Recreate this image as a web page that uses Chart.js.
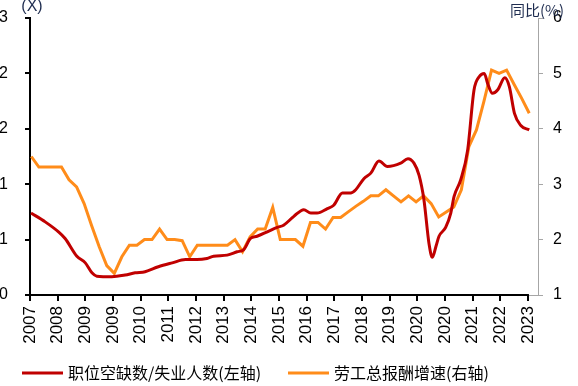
<!DOCTYPE html>
<html>
<head>
<meta charset="utf-8">
<script src="https://cdn.jsdelivr.net/npm/chart.js@4.4.1/dist/chart.umd.min.js"></script>
<style>
  html, body { margin: 0; padding: 0; background: #fff; }
  #wrap { width: 578px; height: 386px; }
</style>
</head>
<body>
<div id="wrap"><canvas id="chart"></canvas></div>
<script>
// x axis: decimal years; one label every 11 months starting Mar 2007
var tickLabels = ['2007', '2008', '2009', '2009', '2010', '2011', '2012', '2013', '2014', '2015',
                  '2016', '2017', '2018', '2019', '2020', '2020', '2021', '2022', '2023'];
var tickStart = 2007 + 2 / 12;
var tickStep = 11 / 12;

// 职位空缺数/失业人数 (left axis, times)
var ratioDates = [2007.2, 2007.67, 2008.11, 2008.33, 2008.72, 2009.0, 2009.22, 2009.38, 2009.88, 2010.32,
                  2010.65, 2010.98, 2011.42, 2011.88, 2012.32, 2012.7, 2013.03, 2013.25, 2013.7, 2014.03,
                  2014.25, 2014.47, 2014.69, 2015.03, 2015.36, 2015.57, 2015.91, 2016.24, 2016.47, 2016.68,
                  2017.02, 2017.23, 2017.52, 2017.79, 2017.96, 2018.23, 2018.46, 2018.73, 2019.01, 2019.45,
                  2019.69, 2019.89, 2020.06, 2020.22, 2020.39, 2020.5, 2020.62, 2020.72, 2020.94, 2021.11,
                  2021.22, 2021.44, 2021.67, 2021.88, 2022.05, 2022.22, 2022.33, 2022.49, 2022.66, 2022.9,
                  2023.05, 2023.22, 2023.43, 2023.71];
var ratioValues = [0.74, 0.66, 0.57, 0.51, 0.35, 0.29, 0.20, 0.17, 0.165, 0.18,
                   0.20, 0.21, 0.255, 0.29, 0.32, 0.32, 0.33, 0.35, 0.36, 0.39,
                   0.41, 0.51, 0.53, 0.57, 0.61, 0.63, 0.71, 0.77, 0.74, 0.74,
                   0.78, 0.81, 0.92, 0.92, 0.95, 1.05, 1.10, 1.21, 1.16, 1.19,
                   1.23, 1.19, 1.08, 0.86, 0.46, 0.34, 0.44, 0.53, 0.61, 0.74,
                   0.89, 1.04, 1.31, 1.85, 1.97, 2.00, 1.91, 1.82, 1.85, 1.96,
                   1.88, 1.64, 1.53, 1.49];

// 劳工总报酬增速 (right axis, %), quarterly from 2007Q1
var wageStart = 2007.21;
var wageValues = [3.5, 3.31, 3.31, 3.31, 3.31, 3.08, 2.95, 2.65, 2.25, 1.87,
                  1.53, 1.39, 1.69, 1.9, 1.9, 2.0, 2.0, 2.19, 2.0, 2.0,
                  1.98, 1.69, 1.9, 1.9, 1.9, 1.9, 1.9, 2.0, 1.78, 2.05,
                  2.19, 2.19, 2.58, 2.0, 2.0, 2.0, 1.88, 2.31, 2.31, 2.19,
                  2.4, 2.4, 2.5, 2.6, 2.69, 2.79, 2.79, 2.9, 2.79, 2.68,
                  2.79, 2.68, 2.79, 2.65, 2.41, 2.5, 2.59, 2.9, 3.68, 3.98,
                  4.5, 5.06, 5.0, 5.06, 4.8, 4.55, 4.28];

var RED = '#C00000';
var ORANGE = '#FF8C1A';
var FONT = 'Arial, "Liberation Sans", sans-serif';

var axisLine = {
    id: 'axisLine',
    beforeDatasetsDraw: function (chart) {
        var ctx = chart.ctx, a = chart.chartArea;
        var xEnd = chart.scales.x.getPixelForValue(tickStart + tickStep * (tickLabels.length - 1)) + 1;
        ctx.save();
        ctx.strokeStyle = '#A6A6A6'; ctx.lineWidth = 1;
        ctx.beginPath(); ctx.moveTo(xEnd, a.bottom + 0.5); ctx.lineTo(a.right, a.bottom + 0.5); ctx.stroke();
        ctx.strokeStyle = '#000'; ctx.lineWidth = 2;
        ctx.beginPath(); ctx.moveTo(a.left - 1, a.bottom); ctx.lineTo(xEnd, a.bottom); ctx.stroke();
        ctx.restore();
    }
};

var extraText = {
    id: 'extraText',
    afterDraw: function (chart) {
        var ctx = chart.ctx;
        ctx.save();
        ctx.textBaseline = 'middle';
        ctx.fillStyle = '#1F2D50';
        ctx.font = '16px ' + FONT;
        ctx.textAlign = 'center';
        ctx.fillText('(X)', 32, 7);
        ctx.textAlign = 'left';
        ctx.font = '15px "Noto Sans CJK SC", ' + FONT;
        ctx.fillText('同比(%)', 510, 10);

        // legend
        var y = 373;
        var xs = [22, 288];
        ctx.font = '16px "Noto Sans CJK SC", sans-serif';
        ctx.fillStyle = '#000';
        chart.data.datasets.forEach(function (ds, i) {
            ctx.strokeStyle = ds.borderColor;
            ctx.lineWidth = 3;
            ctx.beginPath(); ctx.moveTo(xs[i], y); ctx.lineTo(xs[i] + 41, y); ctx.stroke();
            ctx.fillText(ds.label, xs[i] + 46, y);
        });
        ctx.restore();
    }
};

function fixWidth(w) {
    return function (s) {
        s.width = w;
        s.paddingTop = 0;
        s.paddingBottom = 0;
    };
}

var ch = document.getElementById('chart');
var chart = new Chart(ch.getContext('2d'), {
    type: 'line',
    data: {
        datasets: [{
            label: '职位空缺数/失业人数(左轴)',
            data: ratioDates.map((d, i) => ({ x: d, y: ratioValues[i] })),
            yAxisID: 'y',
            borderColor: RED,
            borderWidth: 3,
            pointRadius: 0,
            cubicInterpolationMode: 'monotone'
        }, {
            label: '劳工总报酬增速(右轴)',
            data: wageValues.map((v, i) => ({ x: wageStart + i * 0.25, y: v })),
            yAxisID: 'y2',
            borderColor: ORANGE,
            borderWidth: 3,
            pointRadius: 0,
            tension: 0
        }]
    },
    options: {
        responsive: true,
        maintainAspectRatio: false,
        animation: false,
        layout: { padding: { top: 18, left: 0, right: 0, bottom: 0 } },
        plugins: { legend: { display: false }, tooltip: { enabled: false } },
        scales: {
            x: {
                type: 'linear',
                min: tickStart,
                max: 2024.0,
                afterBuildTicks: function (s) {
                    s.ticks = tickLabels.map((l, i) => ({ value: tickStart + i * tickStep }));
                },
                afterFit: function (s) { s.height = 91; },
                ticks: {
                    autoSkip: false, maxRotation: 90, minRotation: 90, padding: 5,
                    color: '#000', font: { size: 17, family: FONT },
                    callback: function (v, i) { return tickLabels[i]; }
                },
                grid: { drawOnChartArea: false, drawTicks: true, tickLength: 6, color: '#000', lineWidth: 2 },
                border: { display: false }
            },
            y: {
                position: 'left',
                min: 0, max: 2.5,
                afterFit: fixWidth(30),
                ticks: {
                    stepSize: 0.5, padding: 17, color: '#000', font: { size: 16, family: FONT },
                    callback: function (v) { return String(Math.round(v)); }
                },
                grid: { drawOnChartArea: false, tickLength: 5, color: '#000', lineWidth: 2 },
                border: { color: '#000', width: 2 }
            },
            y2: {
                position: 'right',
                min: 1, max: 6,
                afterFit: fixWidth(40),
                ticks: { stepSize: 1, padding: 10, color: '#000', font: { size: 16, family: FONT } },
                grid: { drawOnChartArea: false, tickLength: 5, color: '#A6A6A6', lineWidth: 1 },
                border: { color: '#A6A6A6', width: 1 }
            }
        }
    },
    plugins: [axisLine, extraText]
});
</script>
</body>
</html>
